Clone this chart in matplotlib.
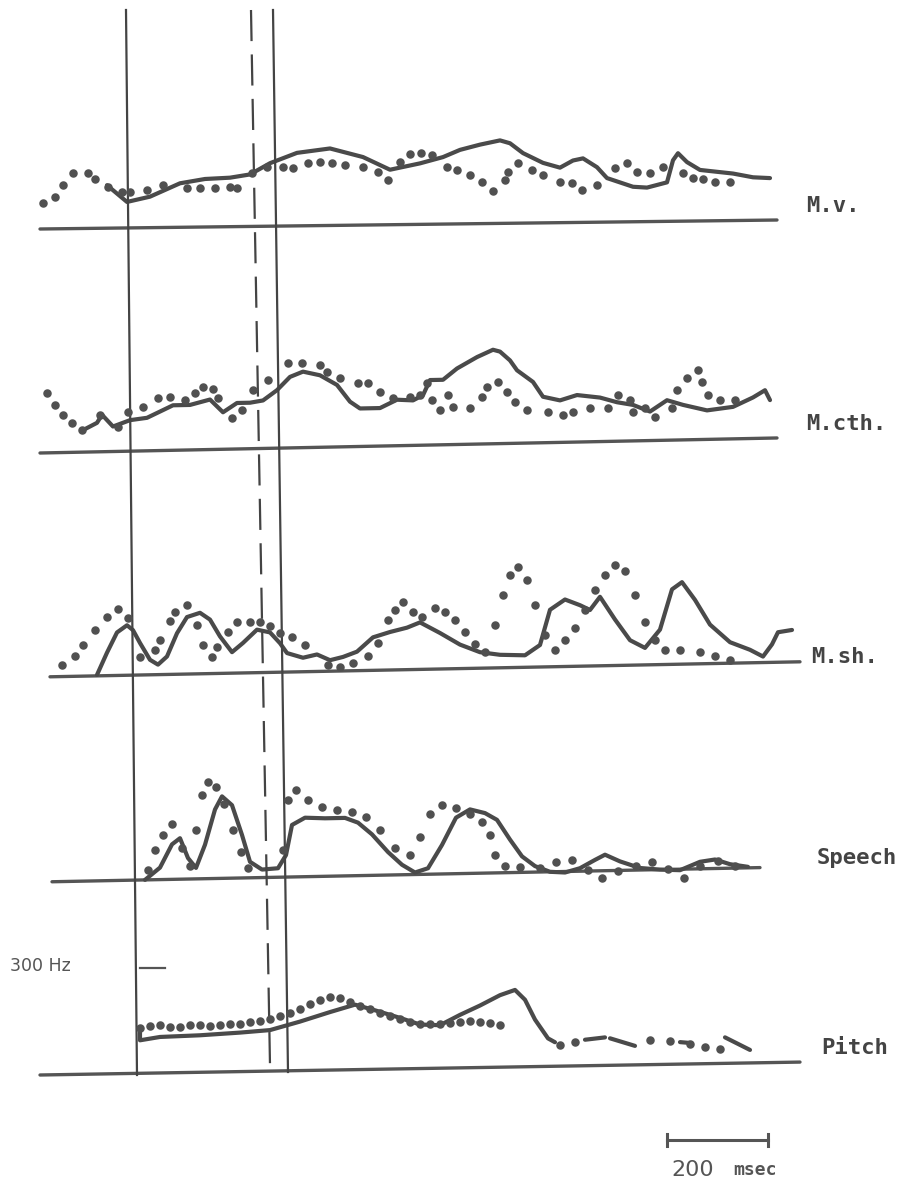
import numpy as np
import matplotlib
matplotlib.use('Agg')
import matplotlib.pyplot as plt

# time in ms (0 = left end of the baselines), amplitude in arbitrary units above baseline
mv_line_t = [134, 174, 220, 280, 330, 380, 420, 460, 514, 580, 646, 700, 760, 806, 840, 880, 920, 940, 966,
             1006, 1040, 1066, 1086, 1114, 1134, 1186, 1214, 1254, 1266, 1276, 1294, 1320, 1386, 1426, 1460]
mv_line_a = [43, 26, 31, 44, 48, 49, 52, 63, 73, 77, 68, 55, 61, 67, 74, 79, 83, 80, 70,
             60, 55, 62, 64, 55, 44, 35, 34, 39, 61, 68, 59, 51, 47, 43, 42]
mv_dot_t = [6, 30, 46, 66, 96, 110, 136, 164, 180, 214, 246, 294, 320, 350, 380, 394, 424, 454, 486, 506, 536,
            560, 584, 610, 646, 676, 696, 720, 740, 762, 784, 814, 834, 860, 884, 906, 930, 936, 956, 984, 1006,
            1040, 1064, 1084, 1114, 1150, 1174, 1194, 1220, 1246, 1286, 1306, 1326, 1350, 1380]
mv_dot_a = [26, 32, 44, 56, 55, 49, 41, 36, 36, 38, 42, 39, 39, 39, 40, 39, 53, 59, 59, 58, 63,
            64, 62, 60, 58, 53, 45, 63, 70, 71, 69, 57, 54, 49, 42, 32, 43, 51, 60, 53, 48,
            41, 40, 32, 37, 54, 59, 50, 49, 54, 48, 43, 42, 39, 39]

cth_line_t = [86, 114, 124, 146, 180, 214, 266, 300, 340, 366, 394, 420, 446, 474, 500, 526, 560, 594, 620, 640,
              680, 714, 746, 766, 780, 806, 834, 874, 906, 920, 940, 954, 986, 1006, 1040, 1074, 1120, 1154,
              1186, 1220, 1254, 1286, 1334, 1386, 1426, 1450, 1460]
cth_line_a = [22, 29, 37, 25, 31, 33, 45, 45, 50, 37, 46, 46, 48, 58, 71, 76, 72, 62, 45, 38,
              38, 46, 45, 50, 65, 65, 76, 87, 94, 92, 83, 73, 61, 46, 42, 47, 44, 39,
              36, 29, 40, 35, 29, 32, 41, 48, 38]
cth_dot_t = [14, 30, 46, 64, 84, 120, 156, 176, 206, 236, 260, 290, 310, 326, 346, 356, 384, 404, 426, 456, 496,
             524, 560, 574, 600, 636, 656, 680, 706, 740, 760, 774, 784, 800, 816, 826, 860, 884, 894, 916, 934,
             950, 974, 1016, 1046, 1066, 1100, 1136, 1156, 1180, 1186, 1210, 1230, 1264, 1274, 1294, 1316, 1324,
             1336, 1360, 1390]
cth_dot_a = [60, 48, 38, 29, 22, 37, 24, 39, 44, 53, 53, 50, 57, 63, 60, 51, 31, 39, 59, 68, 85,
             85, 82, 75, 69, 64, 63, 54, 48, 48, 50, 62, 45, 35, 50, 38, 36, 47, 57, 62, 51,
             41, 33, 31, 27, 30, 34, 33, 46, 41, 29, 33, 23, 32, 50, 62, 70, 57,
             44, 39, 39]

sh_line_t = [114, 134, 154, 174, 186, 200, 220, 236, 254, 274, 294, 320, 340, 360, 384, 406, 434, 460, 480, 494,
             526, 554, 580, 606, 634, 666, 700, 734, 760, 800, 840, 880, 920, 970, 1000, 1020, 1050, 1080, 1100,
             1120, 1150, 1180, 1210, 1240, 1264, 1284, 1310, 1340, 1380, 1420, 1446, 1464, 1476, 1504]
sh_line_a = [1, 23, 43, 50, 45, 32, 15, 10, 18, 41, 57, 61, 54, 37, 21, 30, 43, 40, 29, 19,
             14, 17, 11, 14, 19, 33, 38, 42, 47, 36, 24, 16, 13, 12, 22, 57, 67, 61, 56,
             69, 46, 25, 17, 35, 75, 82, 64, 39, 21, 13, 6, 18, 30, 32]
sh_dot_t = [44, 70, 86, 110, 134, 156, 176, 200, 230, 240, 260, 270, 294, 314, 326, 344, 354, 376, 394, 420, 440,
            460, 480, 504, 530, 576, 600, 626, 656, 676, 696, 710, 726, 746, 764, 790, 810, 830, 850, 870, 890,
            910, 926, 940, 956, 974, 990, 1010, 1030, 1050, 1070, 1090, 1110, 1130, 1150, 1170, 1190, 1210,
            1230, 1250, 1280, 1320, 1350, 1380]
sh_dot_a = [12, 20, 31, 46, 59, 66, 57, 18, 25, 35, 53, 62, 69, 49, 29, 17, 26, 41, 51, 51, 51,
            46, 39, 35, 27, 6, 4, 8, 14, 27, 50, 60, 68, 58, 52, 61, 57, 49, 37, 24, 16,
            43, 73, 93, 100, 87, 62, 32, 17, 27, 38, 56, 76, 91, 101, 94, 70, 43,
            25, 15, 14, 12, 8, 3]

sp_line_t = [210, 240, 264, 280, 296, 312, 330, 350, 364, 384, 404, 420, 444, 476, 492, 504, 530, 570, 610, 636,
             664, 696, 724, 750, 776, 804, 832, 860, 890, 914, 940, 964, 990, 1020, 1050, 1080, 1110, 1130,
             1160, 1200, 1240, 1280, 1320, 1350, 1380, 1416]
sp_line_a = [0, 12, 35, 41, 21, 11, 34, 69, 82, 73, 43, 16, 8, 9, 22, 52, 59, 58, 58, 53,
             41, 23, 10, 2, 6, 29, 56, 64, 60, 53, 33, 16, 6, 0, -1, 3, 11, 16,
             9, 2, 0, -1, 7, 9, 4, 1]
sp_dot_t = [216, 230, 246, 264, 284, 300, 312, 324, 336, 352, 368, 386, 402, 416, 486, 496, 512, 536, 564, 594,
            624, 652, 680, 710, 740, 760, 780, 804, 832, 860, 884, 900, 910, 930, 960, 1000, 1032, 1064, 1096,
            1124, 1156, 1192, 1224, 1256, 1288, 1320, 1356, 1390]
sp_dot_a = [10, 30, 45, 55, 31, 13, 49, 84, 97, 91, 74, 48, 26, 10, 27, 77, 87, 77, 69, 66,
            64, 58, 45, 27, 20, 37, 60, 69, 66, 59, 51, 38, 18, 7, 5, 4, 10, 11, 1,
            -7, -1, 4, 8, 0, -9, 3, 7, 2]

# pitch contour, nan = gap in the trace
pi_line_t = [200, 200, 240, 320, 400, 460, 520, 580, 630, 670, 720, 760, 800, 840, 880, 920, 950, 970, 990, 1016,
             1030, np.nan, 1090, 1130, np.nan, 1140, 1190, np.nan, 1280, 1300, np.nan, 1370, 1420]
pi_line_a = [45, 33, 36, 37, 39, 41, 49, 58, 65, 59, 51, 44, 43, 53, 62, 72, 77, 67, 47, 28,
             24, np.nan, 26, 28, np.nan, 27, 19, np.nan, 22, 21, np.nan, 26, 13]
pi_dot_t = [200, 220, 240, 260, 280, 300, 320, 340, 360, 380, 400, 420, 440, 460, 480, 500, 520, 540, 560, 580,
            600, 620, 640, 660, 680, 700, 720, 740, 760, 780, 800, 820, 840, 860, 880, 900, 920, 1040, 1070,
            1220, 1260, 1300, 1330, 1360]
pi_dot_a = [45, 47, 48, 46, 46, 47, 47, 46, 47, 48, 48, 49, 50, 52, 55, 58, 62, 66, 70, 73,
            72, 68, 64, 60, 56, 53, 50, 47, 45, 44, 44, 45, 46, 47, 46, 44, 42, 21, 24,
            25, 23, 20, 17, 14]

# panels: name, baseline height at t=0, baseline rise per ms, baseline start/end
panel_names = ['M.v.', 'M.cth.', 'M.sh.', 'Speech', 'Pitch']
panel_base = [958, 734, 510, 305, 112]
panel_rise = [0.0061, 0.0102, 0.0100, 0.0100, 0.0085]
panel_start = [0, 0, 20, 24, 0]
panel_end = [1474, 1474, 1520, 1440, 1520]
panel_label_y = [981, 763, 530, 329, 139]
panel_label_t = [1532, 1532, 1542, 1554, 1562]
traces = [(mv_line_t, mv_line_a, mv_dot_t, mv_dot_a),
          (cth_line_t, cth_line_a, cth_dot_t, cth_dot_a),
          (sh_line_t, sh_line_a, sh_dot_t, sh_dot_a),
          (sp_line_t, sp_line_a, sp_dot_t, sp_dot_a),
          (pi_line_t, pi_line_a, pi_dot_t, pi_dot_a)]

# vertical event markers (time at top, time at bottom, bottom height, style)
mark_top = [172, 422, 466]
mark_bottom = [194, 460, 496]
mark_low = [112, 122, 115]
mark_dashed = [False, True, False]

ink = '#4a4a4a'
fig = plt.figure(figsize=(9.17, 11.87), dpi=100)
ax = fig.add_axes([0, 0, 1, 1])
ax.set_xlim(-80, 1754)
ax.set_ylim(0, 1187)
ax.axis('off')

for i in range(len(panel_names)):
    base = panel_base[i]
    rise = panel_rise[i]
    bx = np.array([panel_start[i], panel_end[i]])
    ax.plot(bx, base + rise * bx, color='#555555', lw=2.4, solid_capstyle='round')
    lt, la, dt, da = traces[i]
    lt = np.array(lt, dtype=float)
    dt = np.array(dt, dtype=float)
    ax.plot(lt, base + rise * lt + np.array(la, dtype=float), color=ink, lw=3.0,
            solid_joinstyle='round', solid_capstyle='round')
    ax.scatter(dt, base + rise * dt + np.array(da, dtype=float), s=26, color='#505050', zorder=3)
    ax.text(panel_label_t[i], panel_label_y[i], panel_names[i], family='DejaVu Sans Mono',
            fontweight='bold', fontsize=16, color='#444444', va='center', ha='left')

for i in range(len(mark_top)):
    line, = ax.plot([mark_top[i], mark_bottom[i]], [1177, mark_low[i]], color='#444444', lw=1.6)
    if mark_dashed[i]:
        line.set_dashes((14, 6))

# 300 Hz reference tick on pitch panel
ax.plot([200, 250], [219, 219], color='#555555', lw=1.6)
ax.text(-60, 221, '300 Hz', family='DejaVu Sans', fontsize=12.5, color='#555555', va='center', ha='left')

# scale bar
ax.plot([1254, 1456], [47, 47], color='#555555', lw=2.2)
ax.plot([1254, 1254], [41, 53], color='#555555', lw=2.2)
ax.plot([1456, 1456], [41, 53], color='#555555', lw=2.2)
ax.text(1262, 17, '200', family='DejaVu Sans', fontsize=16, color='#555555', va='center', ha='left')
ax.text(1386, 17, 'msec', family='DejaVu Sans Mono', fontweight='bold', fontsize=13,
        color='#555555', va='center', ha='left')

fig.savefig('out.png', dpi=100)
